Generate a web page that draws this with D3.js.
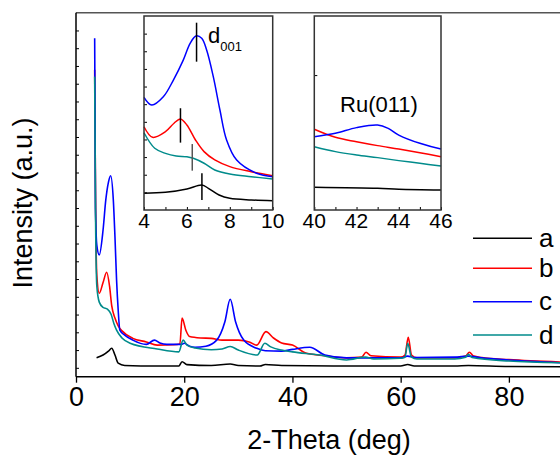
<!DOCTYPE html>
<html>
<head>
<meta charset="utf-8">
<script src="https://cdn.jsdelivr.net/npm/d3@7"></script>
<style>
  body { margin: 0; background: #fff; }
  svg { display: block; font-family: "Liberation Sans", Arial, sans-serif; }
</style>
</head>
<body>
<div id="chart"></div>
<script>
// series: [2-theta, intensity]
const seriesA = [[3.8, 28.5], [5, 36], [6, 47], [6.6, 55], [7.2, 36], [7.8, 13], [9, 6.5], [15, 5], [19, 5], [19.6, 17], [20.5, 9], [25, 6.5], [28.5, 10.8], [30, 6.5], [34, 5], [35, 9.4], [38, 6.5], [50, 5], [60, 5], [61.3, 9.4], [62.5, 5], [70, 5], [72.5, 6.5], [80, 3.7], [90, 3.2]]
const seriesB = [[3.45, 839], [3.6, 500], [3.85, 260], [4.3, 210], [5.0, 240], [5.67, 269], [6.2, 230], [6.6, 175], [7.2, 140], [7.8, 118], [8.5, 104], [10.5, 83], [13, 73], [15, 64], [18, 65], [19.2, 67], [19.6, 140], [20.3, 106], [21, 88], [23, 84], [25, 83], [27, 78], [30, 78], [32, 73], [33.4, 64], [35.1, 102], [36.5, 84], [38, 70], [40, 64], [42.6, 41], [46, 34], [50, 28], [52.8, 30], [53.6, 44], [54.5, 34], [60, 30], [60.8, 36], [61.4, 86], [62, 36], [63, 28], [70, 28], [72, 33], [72.7, 44], [73.5, 33], [75, 29], [80, 23], [90, 16]]
const seriesC = [[3.45, 928], [3.6, 450], [3.85, 345], [4.3, 318], [5.0, 388], [5.5, 472], [6.0, 523], [6.4, 541], [6.9, 472], [7.2, 369], [7.5, 247], [7.8, 162], [8.1, 106], [9, 92], [10.5, 78], [13, 66], [14.5, 78], [15.5, 70], [16.8, 66], [19.5, 66], [20, 69], [21, 61], [22, 58], [24, 61], [26, 78], [27.5, 129], [28.5, 193], [29.5, 129], [31, 78], [33.4, 55], [35, 48], [38, 47], [40, 52], [43.2, 58], [46, 36], [50, 28], [60, 28], [61.3, 33], [62.5, 29], [70, 30], [72.5, 33], [75, 28], [80, 22], [90, 14]]
const seriesD = [[3.45, 820], [3.6, 450], [3.85, 230], [4.3, 185], [5.0, 170], [5.8, 165], [6.5, 150], [7.0, 125], [7.5, 106], [8.5, 84], [10, 69], [15, 53], [19, 45], [19.8, 78], [20.5, 64], [22, 56], [25, 51], [27, 53], [28.5, 60], [30, 50], [33.5, 36], [34.9, 69], [36, 59], [38, 50], [40, 45], [45, 36], [50, 22], [53.5, 30], [55, 25], [60, 27], [60.8, 30], [61.3, 69], [62, 30], [63, 25], [70, 25], [72, 30], [72.5, 38], [73.2, 29], [80, 19], [90, 14]]

// inset 1 (4-10 deg)
const lowA = [[4, 9.5], [5, 10], [6, 11.9], [6.7, 14.2], [7, 12.3], [7.5, 8.5], [8, 6.6], [9, 5.7], [10, 5.3]]
const lowB = [[4, 47.2], [4.4, 41.2], [5, 44.4], [5.4, 49.2], [5.7, 51.6], [6, 48.2], [6.4, 39.7], [6.8, 33.1], [7.3, 28.4], [8, 24.6], [9, 21.7], [10, 19.4]]
const lowC = [[4, 63.9], [4.36, 59.5], [4.9, 64.2], [5.37, 73.7], [5.83, 85], [6.15, 94.5], [6.42, 98.7], [6.69, 97.4], [6.92, 90.7], [7.23, 75.6], [7.54, 56.7], [7.85, 39.7], [8.32, 28.3], [9.25, 20.8], [10, 18.9]]
const lowD = [[4, 43.8], [4.5, 35], [5, 32.1], [5.5, 30.6], [6, 30.2], [6.3, 29.3], [6.8, 26.5], [7.3, 22.7], [8, 20.4], [9, 18.9], [10, 17.6]]
// d001 peak markers: [2-theta, from, to, color]
const peakMarks = [[6.45, 84.1, 106.2, "#000"], [5.7, 38.2, 57.7, "#000"], [6.25, 22.3, 37.4, "#555"], [6.7, 5.7, 20.8, "#000"]]

// inset 2 (40-46 deg)
const ruA = [[40, 12.9], [43, 12.3], [44, 11.7], [46, 11.3]]
const ruB = [[40, 45.8], [41, 41.2], [42, 38.7], [43, 36.5], [44, 34.6], [45, 32.5], [46, 30.2]]
const ruC = [[40, 41.6], [41, 43.5], [42, 46.7], [43, 48.2], [43.5, 46.3], [44, 42.5], [45, 37.8], [46, 34.6]]
const ruD = [[40, 35.9], [41, 33.1], [42, 31.2], [43, 29.7], [44, 28], [45, 26.5], [46, 24.9]]

const labels = ["a", "b", "c", "d"]
const colors = ["#000000", "#ff0000", "#0000ff", "#008b8b"]
const xTicks = [0, 20, 40, 60, 80]

const W = 560, H = 455
const svg = d3.select("#chart").append("svg").attr("width", W).attr("height", H)

const x = d3.scaleLinear().domain([0, 90]).range([76, 563])
const y = d3.scaleLinear().domain([-25, 1000]).range([376.7, 12.7])

svg.append("clipPath").attr("id", "clip")
  .append("rect").attr("x", 76).attr("y", 12.7).attr("width", W - 76).attr("height", 364)

const line = (sx, sy, curve) => d3.line().x(d => sx(d[0])).y(d => sy(d[1])).curve(curve || d3.curveMonotoneX)

const plot = svg.append("g").attr("clip-path", "url(#clip)")
;[seriesA, seriesB, seriesC, seriesD].forEach((s, i) => {
  plot.append("path").datum(s)
    .attr("d", line(x, y))
    .attr("fill", "none")
    .attr("stroke", colors[i])
    .attr("stroke-width", 1.6)
})

// frame top
svg.append("line").attr("x1", 76).attr("x2", W).attr("y1", 12.7).attr("y2", 12.7)
  .attr("stroke", "#555").attr("stroke-width", 1.5)

// x axis
const xAxis = svg.append("g").attr("transform", "translate(0,376.7)")
xAxis.call(d3.axisBottom(x).tickValues(d3.range(0, 91, 10)).tickSize(5).tickFormat(""))
xAxis.call(d3.axisBottom(x).tickValues(xTicks).tickSize(6).tickPadding(4).tickFormat(d3.format("d")))
xAxis.selectAll(".domain").attr("stroke-width", 1.5).attr("d", `M76,0H${W}`)
xAxis.selectAll("line").attr("stroke-width", 1.3)
xAxis.selectAll("text").attr("font-size", 27).attr("fill", "#000").attr("font-family", "Liberation Sans, Arial, sans-serif")

// y axis, ticks inside, no labels
const yAxis = svg.append("g").attr("transform", "translate(76,0)")
yAxis.call(d3.axisRight(y).tickValues(d3.range(0, 951, 50)).tickSize(3).tickFormat(""))
yAxis.select(".domain").attr("stroke-width", 1.5).attr("d", "M0,12.7V376.7")

svg.append("text").attr("x", 329).attr("y", 449).attr("text-anchor", "middle")
  .attr("font-size", 27).text("2-Theta (deg)")
svg.append("text").attr("transform", "translate(32,203) rotate(-90)").attr("text-anchor", "middle")
  .attr("font-size", 27).text("Intensity (a.u.)")

// legend
const legY = [238.3, 268.3, 301.7, 335]
labels.forEach((l, i) => {
  svg.append("line").attr("x1", 473).attr("x2", 532).attr("y1", legY[i]).attr("y2", legY[i])
    .attr("stroke", colors[i]).attr("stroke-width", 1.6)
  svg.append("text").attr("x", 539).attr("y", legY[i] + 8.5).attr("font-size", 26).text(l)
})

// inset panels
function inset(x0, x1, domain, sets, ticks, yTicks) {
  const g = svg.append("g")
  const sx = d3.scaleLinear().domain(domain).range([x0, x1])
  const sy = d3.scaleLinear().domain([0, 110]).range([210, 16])
  g.append("rect").attr("x", x0).attr("y", 16).attr("width", x1 - x0).attr("height", 194)
    .attr("fill", "#fff")
  sets.forEach((s, i) => {
    g.append("path").datum(s).attr("d", line(sx, sy, d3.curveCatmullRom.alpha(0.5)))
      .attr("fill", "none").attr("stroke", colors[i]).attr("stroke-width", 1.5)
  })
  const ax = g.append("g").attr("transform", "translate(0,210)")
  ax.call(d3.axisTop(sx).tickValues(d3.range(domain[0], domain[1] + 0.1, 1)).tickSize(3).tickFormat(""))
  ax.select(".domain").remove()
  g.selectAll(null).data(ticks).enter().append("text")
    .attr("x", d => sx(d)).attr("y", 228).attr("text-anchor", "middle")
    .attr("font-size", 21).text(d => d)
  const ay = g.append("g").attr("transform", `translate(${x0},0)`)
  ay.call(d3.axisRight(sy).tickValues(yTicks).tickSize(3).tickFormat(""))
  ay.select(".domain").remove()
  g.append("rect").attr("x", x0).attr("y", 16).attr("width", x1 - x0).attr("height", 194)
    .attr("fill", "none").attr("stroke", "#333").attr("stroke-width", 1.5)
  return { g, sx, sy }
}

const in1 = inset(144, 272.7, [4, 10], [lowA, lowB, lowC, lowD], [4, 6, 8, 10], d3.range(10, 101, 10))
peakMarks.forEach(m => {
  in1.g.append("line").attr("x1", in1.sx(m[0])).attr("x2", in1.sx(m[0]))
    .attr("y1", in1.sy(m[1])).attr("y2", in1.sy(m[2]))
    .attr("stroke", m[3]).attr("stroke-width", 1.5)
})
const d001 = in1.g.append("text").attr("x", 208).attr("y", 43).attr("font-size", 22)
d001.append("tspan").text("d")
d001.append("tspan").attr("font-size", 13).attr("dy", 8).text("001")

const in2 = inset(314.3, 441, [40, 46], [ruA, ruB, ruC, ruD], [40, 42, 44, 46], [76.5])
in2.g.append("text").attr("x", 379).attr("y", 111.5).attr("text-anchor", "middle")
  .attr("font-size", 22).text("Ru(011)")
</script>
</body>
</html>
